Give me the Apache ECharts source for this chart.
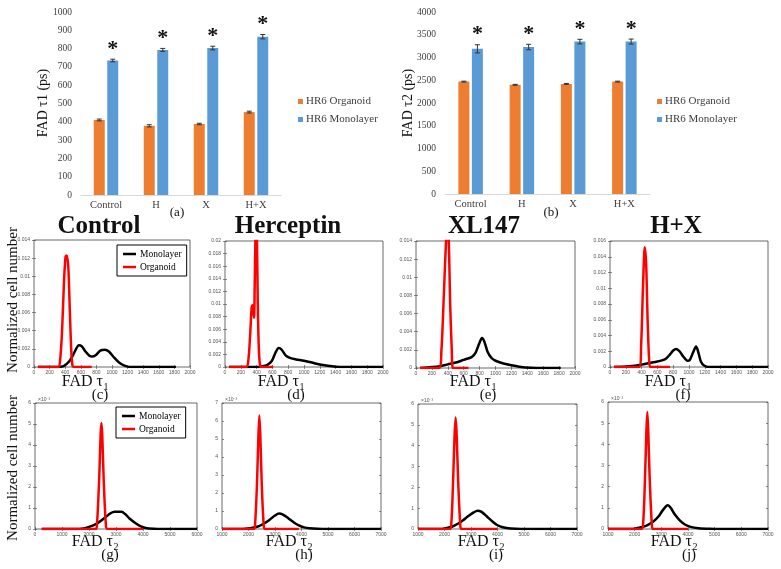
<!DOCTYPE html>
<html><head><meta charset="utf-8">
<script src="https://cdn.jsdelivr.net/npm/echarts@6/dist/echarts.min.js"></script>
<style>html,body{margin:0;padding:0;background:#fff}#c{width:781px;height:569px}</style>
</head><body><div id="c"></div>
<script>
// ---------------- DATA ----------------
const barCategories = ['Control', 'H', 'X', 'H+X'];
const tau1Organoid = [410, 378, 388, 453];
const tau1OrganoidErr = [5, 6, 4, 5];
const tau1Monolayer = [735, 793, 803, 865];
const tau1MonolayerErr = [7, 8, 10, 12];
const tau2Organoid = [2470, 2400, 2420, 2470];
const tau2OrganoidErr = [10, 10, 10, 10];
const tau2Monolayer = [3190, 3230, 3350, 3350];
const tau2MonolayerErr = [90, 60, 50, 55];
const tau1BarYTicks = [0, 100, 200, 300, 400, 500, 600, 700, 800, 900, 1000];
const tau2BarYTicks = [0, 500, 1000, 1500, 2000, 2500, 3000, 3500, 4000];

const tau1HistXTicks = [0, 200, 400, 600, 800, 1000, 1200, 1400, 1600, 1800, 2000];
const tau2HistXTicksG = [0, 1000, 2000, 3000, 4000, 5000, 6000];
const tau2HistXTicks = [1000, 2000, 3000, 4000, 5000, 6000, 7000];
const yTicksC = [0, 0.002, 0.004, 0.006, 0.008, 0.01, 0.012, 0.014];
const yTicksD = [0, 0.002, 0.004, 0.006, 0.008, 0.01, 0.012, 0.014, 0.016, 0.018, 0.02];
const yTicksE = [0, 0.002, 0.004, 0.006, 0.008, 0.01, 0.012, 0.014];
const yTicksF = [0, 0.002, 0.004, 0.006, 0.008, 0.01, 0.012, 0.014, 0.016];
const yTicksG = [0, 1, 2, 3, 4, 5, 6];
const yTicksH = [0, 1, 2, 3, 4, 5, 6, 7];
const yTicksI = [0, 1, 2, 3, 4, 5, 6];
const yTicksJ = [0, 1, 2, 3, 4, 5, 6];

// FAD tau1 histograms (normalized cell number)
const controlT1Mono = [[50,0],[300,0],[380,0.0001],[450,0.0006],[500,0.0013],[540,0.002],[575,0.0024],[610,0.0023],[660,0.0017],[710,0.00125],[745,0.00115],[790,0.0013],[850,0.0018],[910,0.0019],[960,0.0017],[1020,0.0011],[1090,0.0005],[1160,0.00015],[1230,0],[1820,0]];
const controlT1Org = [[50,0],[310,0],[335,0.0008],[360,0.004],[385,0.0095],[405,0.0122],[420,0.0123],[440,0.011],[460,0.006],[478,0.0018],[492,0.0002],[505,0],[740,0]];
const hercT1Mono = [[50,0],[400,0],[460,0.0001],[530,0.0003],[590,0.0009],[640,0.0023],[680,0.003],[720,0.0027],[770,0.0018],[830,0.0014],[900,0.0012],[1000,0.001],[1100,0.0007],[1200,0.0004],[1300,0.0002],[1400,0.00005],[1500,0],[2000,0]];
const hercT1Org = [[50,0],[270,0],[295,0.001],[318,0.005],[338,0.0095],[350,0.0098],[360,0.0086],[368,0.0078],[376,0.013],[386,0.021],[396,0.024],[405,0.02],[415,0.01],[428,0.003],[442,0.0004],[458,0],[610,0]];
const xlT1Mono = [[50,0],[200,0.0001],[300,0.0002],[400,0.0004],[500,0.0006],[600,0.0009],[700,0.0012],[750,0.0017],[795,0.0027],[830,0.0033],[860,0.0029],[900,0.0018],[950,0.0011],[1000,0.0008],[1100,0.0005],[1200,0.0003],[1300,0.00015],[1450,0.00003],[1600,0],[1820,0]];
const xlT1Org = [[50,0],[290,0],[320,0.002],[350,0.008],[378,0.014],[395,0.0158],[412,0.014],[430,0.007],[450,0.002],[465,0],[660,0]];
const hxT1Mono = [[50,0],[250,0.0001],[400,0.0003],[500,0.0005],[600,0.0007],[700,0.001],[760,0.0016],[800,0.0021],[840,0.0023],[880,0.002],[930,0.0013],[980,0.0008],[1010,0.0009],[1050,0.0018],[1090,0.0026],[1120,0.0018],[1150,0.0007],[1190,0.0002],[1250,0],[2000,0]];
const hxT1Org = [[50,0],[370,0],[395,0.003],[420,0.011],[440,0.0152],[458,0.013],[476,0.006],[495,0.001],[512,0],[760,0]];

// FAD tau2 histograms (x 1e-3)
const controlT2Mono = [[250,0],[1500,0],[1800,0.03],[2000,0.1],[2200,0.2],[2400,0.35],[2600,0.55],[2800,0.75],[2950,0.82],[3200,0.82],[3350,0.7],[3500,0.5],[3700,0.3],[3900,0.14],[4100,0.05],[4400,0.01],[4700,0],[6000,0]];
const controlT2Org = [[250,0],[2250,0],[2300,0.3],[2380,2.5],[2430,4.5],[2460,5.05],[2490,4.5],[2540,2.5],[2620,0.3],[2680,0],[4000,0]];
const hercT2Mono = [[1000,0],[1800,0],[2000,0.03],[2200,0.08],[2400,0.16],[2600,0.32],[2800,0.52],[3000,0.75],[3150,0.86],[3300,0.8],[3500,0.6],[3700,0.38],[3900,0.2],[4100,0.09],[4300,0.04],[4600,0.01],[5000,0],[7000,0]];
const hercT2Org = [[1000,0],[2200,0],[2250,0.3],[2320,2.5],[2370,5],[2410,6.3],[2450,5],[2500,2.5],[2570,0.3],[2620,0],[3900,0]];
const xlT2Mono = [[1000,0],[1900,0],[2100,0.05],[2300,0.12],[2500,0.25],[2700,0.42],[2900,0.62],[3100,0.8],[3250,0.88],[3400,0.82],[3600,0.6],[3800,0.37],[4000,0.18],[4200,0.08],[4500,0.02],[4900,0],[7000,0]];
const xlT2Org = [[1000,0],[2200,0],[2260,0.3],[2330,2.5],[2380,4.5],[2420,5.35],[2460,4.5],[2510,2.5],[2590,0.3],[2640,0],[4000,0]];
const hxT2Mono = [[1000,0],[1900,0],[2100,0.05],[2300,0.1],[2500,0.2],[2700,0.35],[2900,0.6],[3050,0.88],[3200,1.1],[3250,1.12],[3350,1.0],[3500,0.7],[3700,0.4],[3900,0.2],[4100,0.1],[4400,0.04],[4800,0.01],[5200,0],[7000,0]];
const hxT2Org = [[1000,0],[2250,0],[2320,0.3],[2390,2.5],[2440,4.6],[2475,5.53],[2510,4.6],[2560,2.5],[2640,0.3],[2690,0],[4000,0]];

// ---------------- LAYOUT / STYLE ----------------
const SERIF = '"Liberation Serif","Times New Roman",serif';
const SANS = '"Liberation Sans",Arial,sans-serif';
const ORANGE = '#ED7D31', BLUE = '#5B9BD5';

const panels = [
  {rect:[34,240,156,127], xt:tau1HistXTicks, yt:yTicksC, mono:controlT1Mono, org:controlT1Org},
  {rect:[225,241,158,126], xt:tau1HistXTicks, yt:yTicksD, mono:hercT1Mono, org:hercT1Org},
  {rect:[416,241,159,127], xt:tau1HistXTicks, yt:yTicksE, mono:xlT1Mono, org:xlT1Org},
  {rect:[610,241,158,126], xt:tau1HistXTicks, yt:yTicksF, mono:hxT1Mono, org:hxT1Org},
  {rect:[35,403,162,126], xt:tau2HistXTicksG, yt:yTicksG, mono:controlT2Mono, org:controlT2Org, exp:true},
  {rect:[222,403,159,126], xt:tau2HistXTicks, yt:yTicksH, mono:hercT2Mono, org:hercT2Org, exp:true},
  {rect:[418,404,159,125], xt:tau2HistXTicks, yt:yTicksI, mono:xlT2Mono, org:xlT2Org, exp:true},
  {rect:[608,402,160,127], xt:tau2HistXTicks, yt:yTicksJ, mono:hxT2Mono, org:hxT2Org, exp:true}
];

const grid = [
  {left:81, top:12, width:200, height:183},
  {left:445, top:12, width:205, height:182}
];
const xAxis = [], yAxis = [], series = [];
const plain = v => String(v);

function barAxes(gi, ticks) {
  xAxis.push({type:'category', gridIndex:gi, data:barCategories,
    axisLine:{show:true, lineStyle:{color:'#d9d9d9'}}, axisTick:{show:false},
    axisLabel:{fontFamily:SERIF, fontSize:10.5, color:'#404040', margin:5}});
  yAxis.push({type:'value', gridIndex:gi, min:ticks[0], max:ticks[ticks.length-1], interval:ticks[1]-ticks[0],
    axisLine:{show:false}, axisTick:{show:false}, splitLine:{show:false},
    axisLabel:{fontFamily:SERIF, fontSize:9.5, color:'#404040', margin:9, formatter:plain}});
}
barAxes(0, tau1BarYTicks);
barAxes(1, tau2BarYTicks);

const BW = 11, GAP = 2.5;
function errSeries(ai, vals, errs, sign, star) {
  return {type:'custom', xAxisIndex:ai, yAxisIndex:ai, z:5, silent:true,
    data: vals.map((v,i)=>[i, v, errs[i]]),
    encode:{x:0, y:1},
    renderItem:(params, api)=>{
      const i = api.value(0), v = api.value(1), e = api.value(2);
      const c = api.coord([i, v]);
      const x = c[0] + sign*(BW+GAP)/2;
      const yt = api.coord([i, v+e])[1], yb = api.coord([i, v-e])[1];
      const st = {stroke:'#333', lineWidth:1};
      const kids = [
        {type:'line', shape:{x1:x, y1:yt, x2:x, y2:yb}, style:st},
        {type:'line', shape:{x1:x-2.5, y1:yt, x2:x+2.5, y2:yt}, style:st},
        {type:'line', shape:{x1:x-2.5, y1:yb, x2:x+2.5, y2:yb}, style:st}
      ];
      if (star) kids.push({type:'text', x:x, y:yt-10, style:{text:'*', fontFamily:SERIF, fontSize:22, fontWeight:'bold', fill:'#111', align:'center', verticalAlign:'middle'}});
      return {type:'group', children:kids};
    }};
}
[[0, tau1Organoid, tau1OrganoidErr, tau1Monolayer, tau1MonolayerErr],
 [1, tau2Organoid, tau2OrganoidErr, tau2Monolayer, tau2MonolayerErr]].forEach(([ai, o, oe, m, me])=>{
  series.push({type:'bar', name:'HR6 Organoid', xAxisIndex:ai, yAxisIndex:ai, data:o, barWidth:BW, barGap:(GAP/BW*100)+'%', itemStyle:{color:ORANGE}});
  series.push({type:'bar', name:'HR6 Monolayer', xAxisIndex:ai, yAxisIndex:ai, data:m, barWidth:BW, barGap:(GAP/BW*100)+'%', itemStyle:{color:BLUE}});
  series.push(errSeries(ai, o, oe, -1, false));
  series.push(errSeries(ai, m, me, 1, true));
});

const fmt = v => String(parseFloat(Number(v).toFixed(4)));
panels.forEach((p, k)=>{
  const gi = grid.length;
  grid.push({left:p.rect[0], top:p.rect[1], width:p.rect[2], height:p.rect[3], show:true, borderColor:'#444', borderWidth:0.8, backgroundColor:'#fff'});
  const xr = {min:p.xt[0], max:p.xt[p.xt.length-1], interval:p.xt[1]-p.xt[0]};
  const yr = {min:p.yt[0], max:p.yt[p.yt.length-1], interval:p.yt[1]-p.yt[0]};
  const tick = {show:true, inside:true, length:2, lineStyle:{color:'#444', width:0.6}};
  const xi = xAxis.length, yi = yAxis.length;
  xAxis.push(Object.assign({type:'value', gridIndex:gi, position:'bottom', axisLine:{show:false}, axisTick:tick, splitLine:{show:false},
    axisLabel:{fontFamily:SANS, fontSize:5, color:'#555', margin:3, formatter:fmt}}, xr));
  xAxis.push(Object.assign({type:'value', gridIndex:gi, position:'top', axisLine:{show:false}, axisTick:tick, splitLine:{show:false}, axisLabel:{show:false}}, xr));
  yAxis.push(Object.assign({type:'value', gridIndex:gi, position:'left', axisLine:{show:false}, axisTick:tick, splitLine:{show:false},
    axisLabel:{fontFamily:SANS, fontSize:5, color:'#555', margin:4, formatter:fmt}}, yr));
  yAxis.push(Object.assign({type:'value', gridIndex:gi, position:'right', axisLine:{show:false}, axisTick:tick, splitLine:{show:false}, axisLabel:{show:false}}, yr));
  const common = {type:'line', xAxisIndex:xi, yAxisIndex:yi, showSymbol:false, symbol:'none', smooth:0.3, clip:true, silent:true};
  series.push(Object.assign({name:'Monolayer', data:p.mono, color:'#000', lineStyle:{color:'#000', width:2.5}, z:3}, common));
  series.push(Object.assign({name:'Organoid', data:p.org, color:'#f00', lineStyle:{color:'#f00', width:2.5}, z:4}, common));
});

const histLegend = (left, top) => ({orient:'vertical', left, top, data:['Monolayer','Organoid'], icon:'rect', itemWidth:13, itemHeight:2.5,
  itemGap:3, padding:[4,5,4,6], borderColor:'#000', borderWidth:1, backgroundColor:'#fff', selectedMode:false,
  textStyle:{fontFamily:SERIF, fontSize:9.5, color:'#000', padding:[0,0,0,-1]}});
const barLegend = (left, top) => ({orient:'vertical', left, top, data:['HR6 Organoid','HR6 Monolayer'], icon:'rect', itemWidth:5, itemHeight:5,
  itemGap:7, padding:0, selectedMode:false, textStyle:{fontFamily:SERIF, fontSize:11, color:'#404040', padding:[0,0,0,-2]}});

function txt(x, y, s, size, extra) {
  return {type:'text', x, y, style:Object.assign({text:s, fontFamily:SERIF, fontSize:size, fill:'#111', align:'center', verticalAlign:'middle'}, extra||{})};
}
const graphic = [];
graphic.push(Object.assign(txt(43, 103, 'FAD τ1 (ps)', 14), {rotation:Math.PI/2}));
graphic.push(Object.assign(txt(408, 103, 'FAD τ2 (ps)', 14), {rotation:Math.PI/2}));
graphic.push(txt(177, 213, '(a)', 13));
graphic.push(txt(551, 213, '(b)', 13));
[['Control',99],['Herceptin',288],['XL147',484],['H+X',676]].forEach(([s,x])=>graphic.push(txt(x, 227, s, 25, {fontWeight:'bold'})));
graphic.push(Object.assign(txt(13, 300, 'Normalized cell number', 15), {rotation:Math.PI/2}));
graphic.push(Object.assign(txt(13, 468, 'Normalized cell number', 15), {rotation:Math.PI/2}));
const fadLabels = [[100,382,'1','(c)'],[296,382,'1','(d)'],[488,382,'1','(e)'],[683,382,'1','(f)'],
                   [110,542,'2','(g)'],[304,542,'2','(h)'],[496,542,'2','(i)'],[689,542,'2','(j)']];
fadLabels.forEach(([x,y,sub,lab])=>{
  graphic.push(txt(x+3, y, 'FAD τ', 16, {align:'right'}));
  graphic.push(txt(x+3.5, y+5, sub, 10, {align:'left'}));
  graphic.push(txt(x, y+13, lab, 15));
});
panels.forEach(p=>{ if (p.exp) graphic.push(txt(p.rect[0]+3, p.rect[1]-3, '×10⁻³', 5, {fontFamily:SANS, align:'left', fill:'#555'})); });

const chart = echarts.init(document.getElementById('c'), null, {renderer:'canvas'});
chart.setOption({
  animation:false,
  backgroundColor:'#fff',
  grid, xAxis, yAxis, series,
  legend:[barLegend(298, 96), barLegend(657, 96), histLegend(117, 245), histLegend(116, 407)],
  graphic
});
</script>
</body></html>
